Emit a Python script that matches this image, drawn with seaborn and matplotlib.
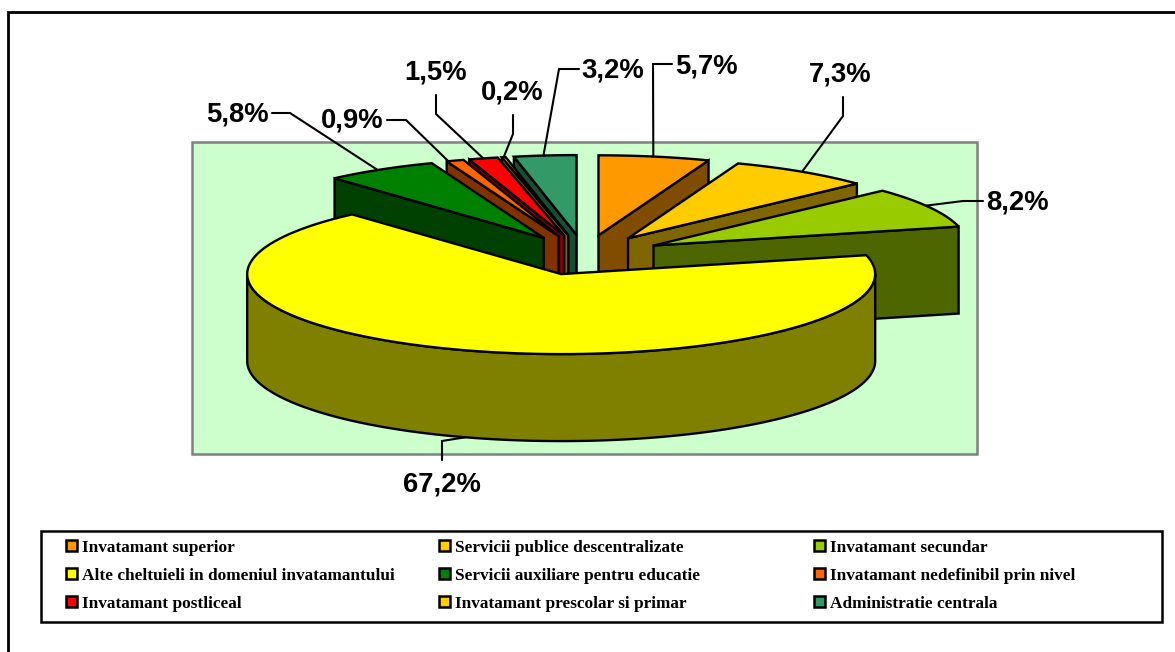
import numpy as np
import matplotlib
matplotlib.use("Agg")
import matplotlib.pyplot as plt
from matplotlib.patches import Rectangle
import seaborn as sns

# ---- data -------------------------------------------------------------
categories = ["Invatamant superior", "Servicii publice descentralizate", "Invatamant secundar",
              "Alte cheltuieli in domeniul invatamantului", "Servicii auxiliare pentru educatie",
              "Invatamant nedefinibil prin nivel", "Invatamant postliceal",
              "Invatamant prescolar si primar", "Administratie centrala"]
values = [5.7, 7.3, 8.2, 67.2, 5.8, 0.9, 1.5, 0.2, 3.2]
value_labels = ["5,7%", "7,3%", "8,2%", "67,2%", "5,8%", "0,9%", "1,5%", "0,2%", "3,2%"]
hex_colors = ["#FF9900", "#FFCC00", "#99CC00", "#FFFF00", "#008000",
              "#FF6600", "#FF0000", "#FFCC00", "#339966"]

# ---- layout (pixel-like axes units) ------------------------------------
CX, CY = 584.5, 255.0      # true pie centre
RX, RY = 314.0, 80.0       # ellipse radii
DEPTH = 87.0               # extrusion
EXPLODE = 0.25
LW = 1.7

label_centres = [(706, 66.5), (840, 75), (1017, 202.5), (442, 484.5), (237, 114.5),
                 (352, 121), (436, 73), (512, 93), (613, 70.5)]
leader_elbows = [[(672, 64), (653, 64)], [(843, 97), (843, 116)], [(983, 201), (963, 201)],
                 [(442, 460), (442, 441)], [(272, 113), (290, 113)], [(387, 120), (406, 120)],
                 [(436, 95), (436, 114)], [(513, 115), (513, 134)], [(579, 69), (559, 69)]]
# small shift along the arc (degrees) of where each leader meets its slice
leader_shift = [-0.2, 0.0, -1.4, 0.5, -0.6, -1.3, 0.0, 0.0, -0.3]
legend_rows = [552, 580, 608]
legend_cols = [82, 455, 830]

sns.set_theme(style="white")
plt.rcParams["font.family"] = ["Liberation Sans", "DejaVu Sans"]
palette = sns.color_palette(hex_colors)
side_palette = [tuple(c * 0.5 for c in col) for col in palette]

fig = plt.figure(figsize=(11.75, 6.52), dpi=100, facecolor="white")
ax = fig.add_axes([0, 0, 1, 1])
ax.set_xlim(0, 1175)
ax.set_ylim(652, 0)
ax.axis("off")

# outer frame: only top and left visible
ax.plot([8, 8, 1175], [652, 12, 12], color="black", lw=2.0, solid_joinstyle="miter", zorder=1)
# plot area
ax.add_patch(Rectangle((192, 142), 785, 312, facecolor="#CCFFCC", edgecolor="#808080", lw=1.8, zorder=1))

# ---- pie -------------------------------------------------------------
fractions = np.array(values) / sum(values)
ends = np.cumsum(fractions) * 360.0
starts = ends - fractions * 360.0
mids = (starts + ends) / 2.0


def pt(theta, ox, oy, r=1.0):
    t = np.radians(theta)
    return ox + r * RX * np.sin(t), oy - r * RY * np.cos(t)


apexes = [pt(m, CX, CY, EXPLODE) for m in mids]
order = np.argsort(-np.cos(np.radians(mids)))
z = 5
style = dict(edgecolor="black", linewidth=LW, joinstyle="miter")

for i in order:
    s, e, (ax0, ay0) = starts[i], ends[i], apexes[i]
    # visible radial walls
    for ang, vis in ((s, 180 < s < 360), (e, 0 < e < 180)):
        if vis:
            x1, y1 = pt(ang, ax0, ay0)
            ax.fill([ax0, x1, x1, ax0], [ay0, y1, y1 + DEPTH, ay0 + DEPTH],
                    facecolor=side_palette[i], zorder=z, **style)
            z += 1
    # visible part of the outer wall (front half)
    lo, hi = max(s, 90), min(e, 270)
    if hi > lo:
        th = np.linspace(lo, hi, 120)
        xs, ys = pt(th, ax0, ay0)
        ax.fill(np.r_[xs, xs[::-1]], np.r_[ys, ys[::-1] + DEPTH],
                facecolor=side_palette[i], zorder=z, **style)
        z += 1
    # top face
    th = np.linspace(s, e, 120)
    xs, ys = pt(th, ax0, ay0)
    ax.fill(np.r_[ax0, xs], np.r_[ay0, ys], facecolor=palette[i], zorder=z, **style)
    z += 1

# ---- labels and leader lines -----------------------------------------
for i, (txt, c, elbow) in enumerate(zip(value_labels, label_centres, leader_elbows)):
    ax0, ay0 = apexes[i]
    x, y = pt(mids[i] + leader_shift[i], ax0, ay0)
    if np.cos(np.radians(mids[i])) < 0:
        y += DEPTH
    ax.plot([elbow[0][0], elbow[1][0], x], [elbow[0][1], elbow[1][1], y],
            color="black", lw=1.5, zorder=z + 1, solid_joinstyle="miter")
    ax.text(c[0], c[1], txt, ha="center", va="center", fontsize=19.8, fontweight="bold",
            color="black", family=["Liberation Sans"], zorder=z + 2)

# ---- legend ------------------------------------------------------------
ax.add_patch(Rectangle((41, 531), 1121, 91, facecolor="white", edgecolor="black", lw=1.8, zorder=2))
for i, name in enumerate(categories):
    row, col = i // 3, i % 3
    tx, ty = legend_cols[col], legend_rows[row]
    ax.add_patch(Rectangle((tx - 16, ty - 12), 11, 11, facecolor=palette[i], edgecolor="black",
                           lw=1.8, zorder=3))
    ax.text(tx, ty, name, ha="left", va="baseline", fontsize=12.4, fontweight="bold",
            color="black", family=["Liberation Serif"], zorder=3)

fig.savefig("out.png", dpi=100, facecolor="white")
